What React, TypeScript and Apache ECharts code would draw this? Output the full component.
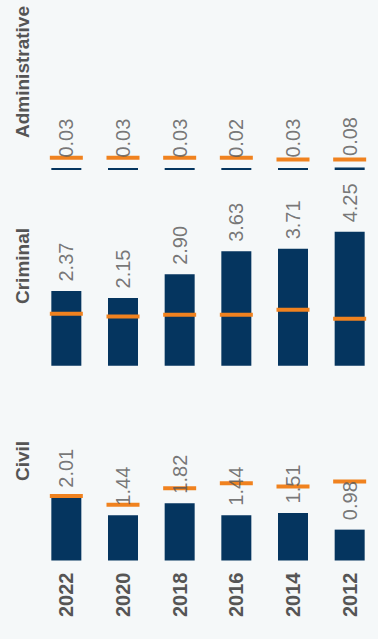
import React, { useEffect, useRef } from "react";
import * as echarts from "echarts";

const years = ["2022", "2020", "2018", "2016", "2014", "2012"];
const panelTitles = ["Administrative", "Criminal", "Civil"];
const adminValues = [0.03, 0.03, 0.03, 0.02, 0.03, 0.08];
const adminTargets = [0.39, 0.39, 0.39, 0.39, 0.33, 0.33];
const criminalValues = [2.37, 2.15, 2.9, 3.63, 3.71, 4.25];
const criminalTargets = [1.65, 1.56, 1.62, 1.62, 1.78, 1.49];
const civilValues = [2.01, 1.44, 1.82, 1.44, 1.51, 0.98];
const civilTargets = [2.05, 1.77, 2.29, 2.45, 2.35, 2.51];

const NAVY = "#05355f";
const ORANGE = "#f0821f";
const TEXT = "#555555";
const BG = "#f5f8f9";
const FONT = "Liberation Sans";
const PX = 31.5; // pixels per unit

export default function App() {
  const ref = useRef<HTMLDivElement>(null);
  useEffect(() => {
    document.body.style.margin = "0";
    document.body.style.background = BG;
    const chart = echarts.init(ref.current!, undefined, { renderer: "svg" });

    const panels = [
      { values: adminValues, targets: adminTargets, max: 1, bottom: 170, dist: 11, titleY: 138 },
      { values: criminalValues, targets: criminalTargets, max: 4.5, bottom: 365.7, dist: 9, titleY: 304 },
      { values: civilValues, targets: civilTargets, max: 3, bottom: 560.5, dist: 9, titleY: 481 },
    ];

    const grid: any[] = [];
    const xAxis: any[] = [];
    const yAxis: any[] = [];
    const series: any[] = [];
    const graphic: any[] = [];

    panels.forEach((p, i) => {
      const h = p.max * PX;
      grid.push({ left: 38, right: -7, top: p.bottom - h, height: h });
      xAxis.push({
        type: "category",
        gridIndex: i,
        data: years,
        axisLine: { show: false },
        axisTick: { show: false },
        axisLabel: {
          show: i === 2,
          rotate: 90,
          fontSize: 20,
          fontWeight: "bold",
          color: TEXT,
          fontFamily: FONT,
          margin: 12,
        },
      });
      yAxis.push({
        type: "value",
        gridIndex: i,
        min: 0,
        max: p.max,
        show: false,
        splitLine: { show: false },
      });
      series.push({
        type: "bar",
        xAxisIndex: i,
        yAxisIndex: i,
        data: p.values,
        barWidth: 30,
        barMinHeight: 2,
        itemStyle: { color: NAVY },
        z: 2,
      });
      series.push({
        type: "scatter",
        xAxisIndex: i,
        yAxisIndex: i,
        data: p.targets,
        symbol: "rect",
        symbolSize: [33, 4],
        itemStyle: { color: ORANGE, opacity: 1 },
        z: 3,
      });
      series.push({
        type: "scatter",
        xAxisIndex: i,
        yAxisIndex: i,
        data: p.values,
        symbol: "rect",
        symbolSize: 1,
        itemStyle: { color: "transparent" },
        z: 4,
        label: {
          show: true,
          position: "top",
          distance: p.dist,
          rotate: 90,
          align: "left",
          verticalAlign: "middle",
          fontSize: 20,
          color: TEXT,
          fontFamily: FONT,
          formatter: (d: any) => Number(d.value).toFixed(2),
        },
      });
      graphic.push({
        type: "text",
        x: 22,
        y: p.titleY,
        rotation: Math.PI / 2,
        style: {
          text: panelTitles[i],
          fontSize: 19,
          fontWeight: "bold",
          fontFamily: FONT,
          fill: TEXT,
          align: "left",
          verticalAlign: "middle",
        },
      });
    });

    chart.setOption({
      animation: false,
      backgroundColor: BG,
      grid,
      xAxis,
      yAxis,
      series,
      graphic,
    });
    return () => chart.dispose();
  }, []);
  return (
    <div
      ref={ref}
      style={{ position: "fixed", left: 0, top: 0, width: 378, height: 639, background: BG }}
    />
  );
}
